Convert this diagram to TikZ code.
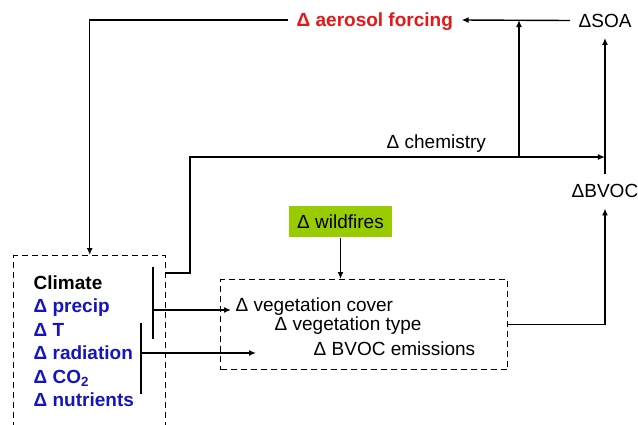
\documentclass[tikz,border=0pt]{standalone}
\usepackage{fontspec}
\setmainfont{Liberation Sans}
\usetikzlibrary{arrows.meta}
\definecolor{climblue}{RGB}{20,20,195}
\definecolor{forcered}{RGB}{232,22,22}
\definecolor{firegreen}{RGB}{153,204,0}
\tikzset{
  dashbox/.style={draw, dash pattern=on 6pt off 4pt, inner sep=0pt, anchor=north west},
  lbl/.style={font=\fontsize{19}{23}\selectfont, text height=13.5pt, text depth=0pt,
              inner xsep=8pt, inner ysep=10pt, anchor=west},
  climtxt/.style={font=\bfseries\fontsize{19}{23}\selectfont, inner sep=0pt, anchor=base west},
}

\begin{document}
\begin{tikzpicture}[x=1pt,y=-1pt,line width=1.4pt,>={Latex[length=7pt,width=6pt]}]
    \useasboundingbox (0,0) rectangle (638,424);
    \clip (0,0) rectangle (638,424);
    % boxes
    \node[dashbox, minimum width=152, minimum height=180] (climbox) at (13,255) {};
    \node[dashbox, minimum width=287, minimum height=90] (vegbox) at (220,279) {};
    \node[fill=firegreen, font=\fontsize{19}{23}\selectfont, text height=13.5pt, text depth=0pt,
          inner sep=0pt, minimum width=103, minimum height=31] (fire) at (340.5,221.5) {Δ wildfires};
    % labels
    \node[lbl, font=\bfseries\fontsize{19}{23}\selectfont, text=forcered] (aero) at (288,20) {Δ aerosol forcing};
    \node[lbl] (soa) at (570,20.5) {ΔSOA};
    \node[lbl] (bvoc) at (563,191) {ΔBVOC};
    \node[lbl] (chem) at (378,141.5) {Δ chemistry};
    \node[lbl, inner xsep=4pt] (cover) at (231,305) {Δ vegetation cover};
    \node[lbl, inner xsep=4pt] (type) at (270,324) {Δ vegetation type};
    \node[lbl, inner xsep=4pt] (emis) at (309,349) {Δ BVOC emissions};
    % climate list
    \node[climtxt] (climate) at (33,289) {Climate};
    \foreach \txt [count=\i] in {precip, T, radiation, CO\textsubscript{2}, nutrients}
        \node[climtxt, text=climblue] (clim\i) at (33,289+23.5*\i) {Δ \txt};
    % bars inside the climate box
    \coordinate (barAtop) at (153,267);
    \coordinate (barAbot) at (153,339);
    \coordinate (barAout) at (153,310);
    \coordinate (barBtop) at (141,323);
    \coordinate (barBbot) at (141,394);
    \coordinate (barBout) at (141,353);
    \coordinate (barBend) at (256,353);
    \draw (barAtop) -- (barAbot);
    \draw (barBtop) -- (barBbot);
    \draw[->] (barAout) -- (barAout -| cover.west);
    \draw[->] (barBout) -- (barBend);
    % feedback loop
    \coordinate (climout) at (165,273);
    \coordinate (chemrow) at (190,157);
    \coordinate (chemup) at (519,157);
    \draw[->] (climout) -- (climout -| chemrow) -- (chemrow) -- (chemrow -| bvoc.north);
    \draw[->] (chemup) -- (chemup |- aero.east);
    \draw[->] (fire.south) -- (fire.south |- vegbox.north);
    \draw[->] (vegbox.east) -| (bvoc.south);
    \draw[->] (bvoc.north) -- (bvoc.north |- soa.south);
    \draw[->] (soa.west) -- (aero.east);
    \draw[->] (aero.west) -| (climbox.north);
\end{tikzpicture}
\end{document}
